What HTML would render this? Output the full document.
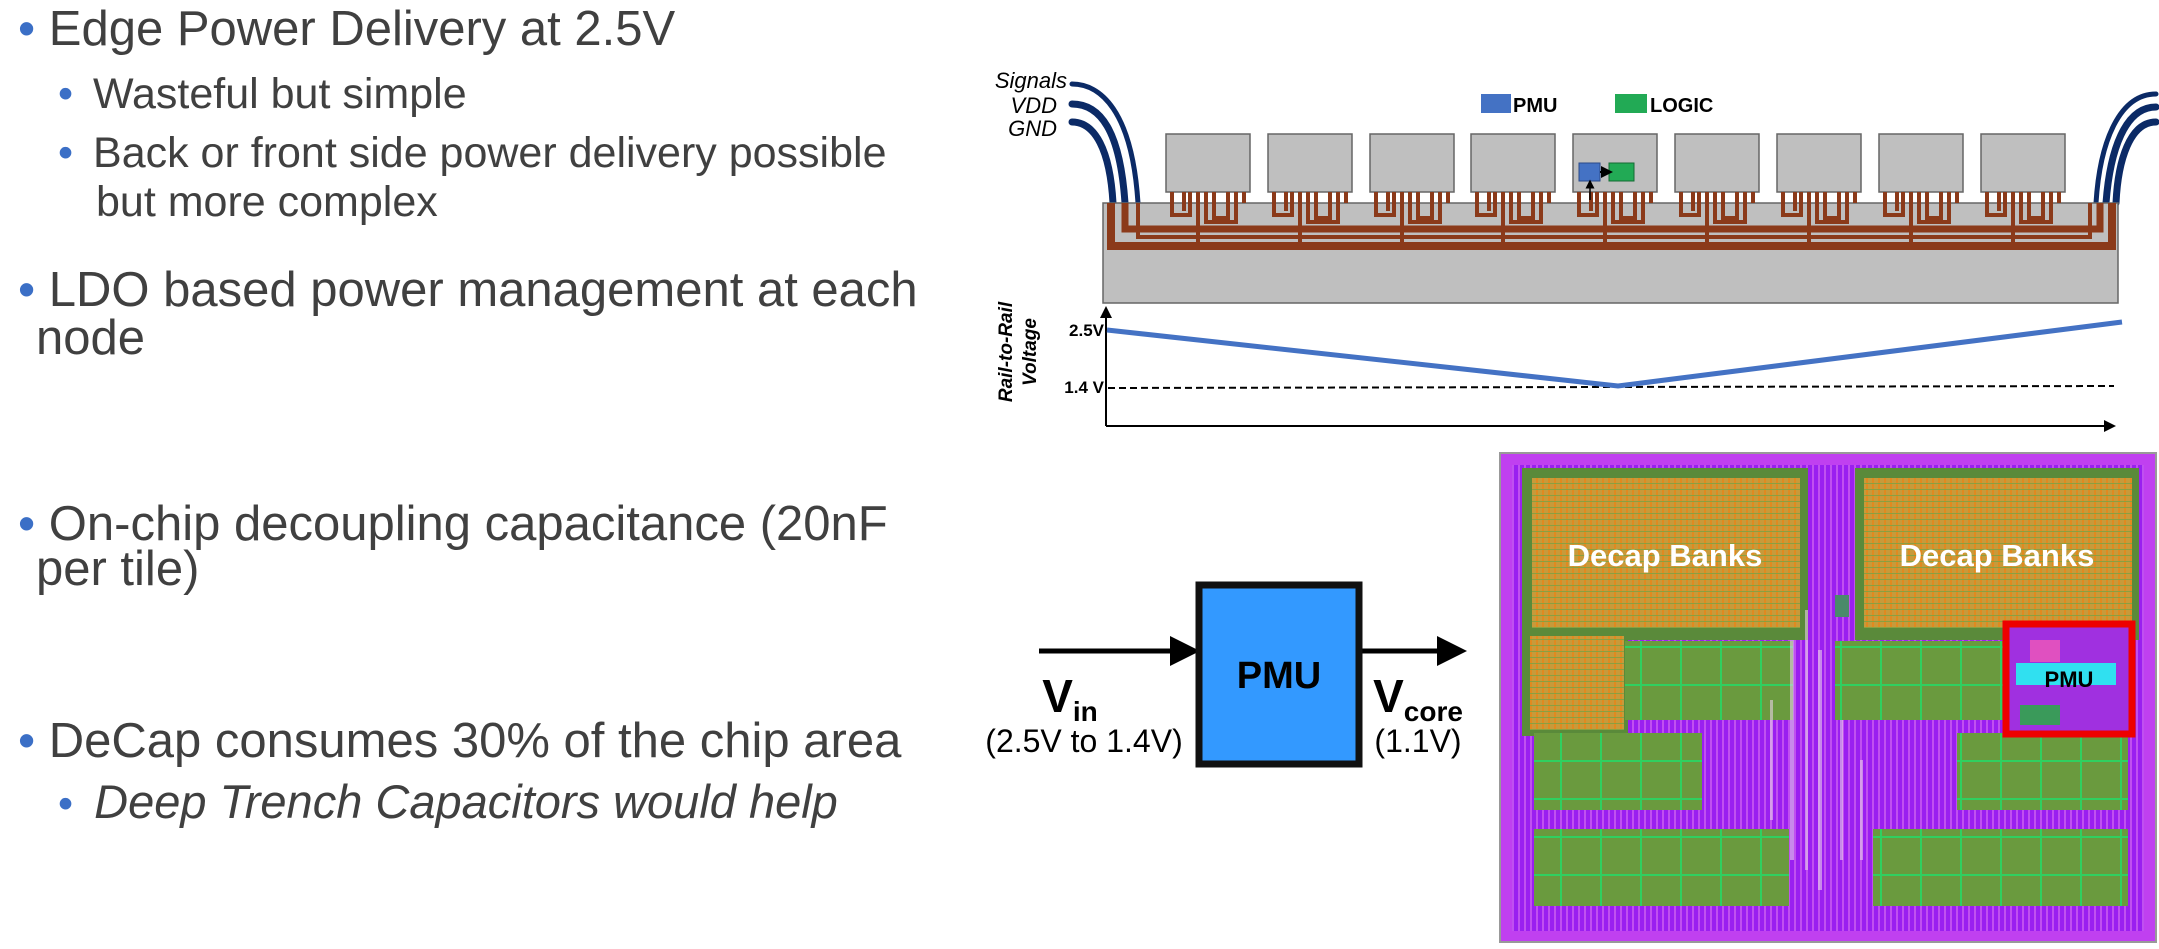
<!DOCTYPE html>
<html><head><meta charset="utf-8"><style>
html,body{margin:0;padding:0;background:#fff;}
body{width:2159px;height:949px;position:relative;overflow:hidden;font-family:"Liberation Sans",sans-serif;color:#404040;}
.t{position:absolute;white-space:nowrap;line-height:1;}
.m{font-size:49px;}
.s{font-size:43px;}
.b{color:#3b6fc6;}
.s .b{margin-right:8px;}
</style></head><body>
<div class="t m" style="left:18px;top:5px"><span class="b">•</span> Edge Power Delivery at 2.5V</div>
<div class="t s" style="left:58px;top:73px"><span class="b">•</span> Wasteful but simple</div>
<div class="t s" style="left:58px;top:132px"><span class="b">•</span> Back or front side power delivery possible</div>
<div class="t s" style="left:96px;top:181px">but more complex</div>
<div class="t m" style="left:18px;top:266px"><span class="b">•</span> LDO based power management at each</div>
<div class="t m" style="left:36px;top:314px">node</div>
<div class="t m" style="left:18px;top:500px"><span class="b">•</span> On-chip decoupling capacitance (20nF</div>
<div class="t m" style="left:36px;top:545px">per tile)</div>
<div class="t m" style="left:18px;top:717px"><span class="b">•</span> DeCap consumes 30% of the chip area</div>
<div class="t s" style="left:58px;top:778px;font-style:italic;font-size:47px"><span class="b" style="font-style:normal;font-size:43px">•</span> Deep Trench Capacitors would help</div>

<svg width="2159" height="949" style="position:absolute;left:0;top:0" xmlns="http://www.w3.org/2000/svg">
<defs>
<pattern id="vs" width="6" height="6" patternUnits="userSpaceOnUse"><rect width="6" height="6" fill="#9a1ff0"/><rect width="2" height="6" fill="#c050f0"/></pattern>
<pattern id="dc" width="6" height="6" patternUnits="userSpaceOnUse"><rect width="6" height="6" fill="#c89a3a"/><rect width="2" height="6" fill="#e08a20"/><rect y="3" width="6" height="1" fill="#8aa040"/></pattern>
<pattern id="gb" width="40" height="38" patternUnits="userSpaceOnUse"><rect width="40" height="38" fill="#6a9a3e"/><rect width="2" height="38" fill="#30d060"/><rect width="40" height="2" fill="#30d060"/></pattern>
<marker id="ah" markerWidth="6" markerHeight="6" refX="3" refY="3" orient="auto"><path d="M0,0 L6,3 L0,6z" fill="#000"/></marker>
</defs>
<g fill="none" stroke="#0b2a66" stroke-linecap="round">
<path d="M1072,84 C1100,84 1132,110 1138,203" stroke-width="5"/>
<path d="M1072,104 C1100,104 1120,130 1125,203" stroke-width="7"/>
<path d="M1072,122 C1095,122 1110,150 1113,203" stroke-width="7"/>
<path d="M2156,94 C2120,94 2100,140 2096,203" stroke-width="5"/>
<path d="M2156,107 C2125,107 2110,150 2106,203" stroke-width="7"/>
<path d="M2156,122 C2130,122 2118,160 2116,203" stroke-width="7"/>
</g>
<text x="1067" y="88" font-family="Liberation Sans" font-style="italic" font-size="22" text-anchor="end" fill="#000">Signals</text>
<text x="1057" y="113" font-family="Liberation Sans" font-style="italic" font-size="22" text-anchor="end" fill="#000">VDD</text>
<text x="1057" y="136" font-family="Liberation Sans" font-style="italic" font-size="22" text-anchor="end" fill="#000">GND</text>
<rect x="1481" y="94" width="30" height="19" fill="#4472c4"/>
<text x="1513" y="112" font-family="Liberation Sans" font-weight="bold" font-size="20" fill="#000">PMU</text>
<rect x="1615" y="94" width="32" height="19" fill="#22aa55"/>
<text x="1650" y="112" font-family="Liberation Sans" font-weight="bold" font-size="20" fill="#000">LOGIC</text>
<rect x="1103" y="203" width="1015" height="100" fill="#bfbfbf" stroke="#666" stroke-width="1.5"/>
<g fill="#bfbfbf" stroke="#666" stroke-width="1.5">
<rect x="1166" y="134" width="84" height="58"/><rect x="1268" y="134" width="84" height="58"/><rect x="1370" y="134" width="84" height="58"/><rect x="1471" y="134" width="84" height="58"/><rect x="1573" y="134" width="84" height="58"/><rect x="1675" y="134" width="84" height="58"/><rect x="1777" y="134" width="84" height="58"/><rect x="1879" y="134" width="84" height="58"/><rect x="1981" y="134" width="84" height="58"/>
</g>
<g stroke="#8b3a1a" fill="none">
<path d="M1111,203 V246 H2112 V203" stroke-width="8"/>
<path d="M1125,203 V229 H2100 V203" stroke-width="7"/>
<path d="M1138,203 V237 H2090 V203" stroke-width="4"/>
</g>
<g stroke="#8b3a1a" stroke-width="4" fill="none">
<g id="p0">
<path d="M1172,192 V215 H1190 V192"/><path d="M1184,192 V211"/><path d="M1198,192 V246"/><path d="M1206,192 V222 H1236 V192"/><path d="M1214,192 V218 H1228 V192"/><path d="M1244,192 V203"/>
</g>
<use href="#p0" x="102"/><use href="#p0" x="204"/><use href="#p0" x="305"/><use href="#p0" x="407"/><use href="#p0" x="509"/><use href="#p0" x="611"/><use href="#p0" x="713"/><use href="#p0" x="815"/>
</g>
<rect x="1579" y="163" width="21" height="18" fill="#4472c4" stroke="#2a4a8a"/>
<rect x="1609" y="163" width="25" height="18" fill="#22aa55" stroke="#146b33"/>
<line x1="1600" y1="172" x2="1607" y2="172" stroke="#000" stroke-width="2" marker-end="url(#ah)"/>
<line x1="1590" y1="200" x2="1590" y2="184" stroke="#000" stroke-width="1.5" marker-end="url(#ah)"/>
<line x1="1106" y1="426" x2="1106" y2="312" stroke="#000" stroke-width="2" marker-end="url(#ah)"/>
<line x1="1106" y1="426" x2="2110" y2="426" stroke="#000" stroke-width="2" marker-end="url(#ah)"/>
<line x1="1108" y1="388" x2="2114" y2="386" stroke="#000" stroke-width="2" stroke-dasharray="7,4"/>
<polyline points="1107,330 1618,386 2122,322" fill="none" stroke="#4472c4" stroke-width="5"/>
<text x="1104" y="336" font-family="Liberation Sans" font-weight="bold" font-size="17" text-anchor="end" fill="#000">2.5V</text>
<text x="1104" y="393" font-family="Liberation Sans" font-weight="bold" font-size="17" text-anchor="end" fill="#000">1.4 V</text>
<text transform="translate(1012,352) rotate(-90)" font-family="Liberation Sans" font-weight="bold" font-style="italic" font-size="19" text-anchor="middle" fill="#000">Rail-to-Rail</text>
<text transform="translate(1036,352) rotate(-90)" font-family="Liberation Sans" font-weight="bold" font-style="italic" font-size="19" text-anchor="middle" fill="#000">Voltage</text>
<line x1="1039" y1="651" x2="1185" y2="651" stroke="#000" stroke-width="5" marker-end="url(#ah)"/>
<line x1="1362" y1="651" x2="1452" y2="651" stroke="#000" stroke-width="5" marker-end="url(#ah)"/>
<rect x="1199" y="585" width="160" height="179" fill="#3399ff" stroke="#111" stroke-width="7"/>
<text x="1279" y="688" font-family="Liberation Sans" font-weight="bold" font-size="38" text-anchor="middle" fill="#000">PMU</text>
<text x="1070" y="712" font-family="Liberation Sans" font-weight="bold" font-size="46" text-anchor="middle" fill="#000">V<tspan font-size="28" dy="9">in</tspan></text>
<text x="1084" y="752" font-family="Liberation Sans" font-size="32" text-anchor="middle" fill="#000">(2.5V to 1.4V)</text>
<text x="1418" y="712" font-family="Liberation Sans" font-weight="bold" font-size="46" text-anchor="middle" fill="#000">V<tspan font-size="28" dy="9">core</tspan></text>
<text x="1418" y="752" font-family="Liberation Sans" font-size="32" text-anchor="middle" fill="#000">(1.1V)</text>
<rect x="1500" y="453" width="656" height="489" fill="#c040f0" stroke="#999" stroke-width="2"/>
<rect x="1512" y="465" width="632" height="466" fill="url(#vs)"/>
<rect x="1522" y="468" width="286" height="172" fill="#5a8a3a"/>
<rect x="1532" y="478" width="268" height="150" fill="url(#dc)"/>
<rect x="1855" y="468" width="284" height="172" fill="#5a8a3a"/>
<rect x="1864" y="478" width="268" height="150" fill="url(#dc)"/>
<rect x="1522" y="632" width="106" height="104" fill="#5a8a3a"/>
<rect x="1530" y="636" width="94" height="94" fill="url(#dc)"/>
<rect x="1625" y="641" width="168" height="79" fill="url(#gb)"/>
<rect x="1835" y="641" width="168" height="79" fill="url(#gb)"/>
<rect x="1534" y="733" width="168" height="77" fill="url(#gb)"/>
<rect x="1957" y="733" width="171" height="77" fill="url(#gb)"/>
<rect x="1534" y="829" width="255" height="77" fill="url(#gb)"/>
<rect x="1873" y="829" width="255" height="77" fill="url(#gb)"/>
<g fill="#e8d0e8" opacity="0.6">
<rect x="1790" y="640" width="4" height="220"/><rect x="1805" y="610" width="3" height="260"/><rect x="1818" y="650" width="4" height="240"/><rect x="1770" y="700" width="3" height="120"/><rect x="1840" y="720" width="3" height="140"/><rect x="1860" y="760" width="3" height="100"/>
</g>
<rect x="1835" y="595" width="14" height="22" fill="#4a8a6a"/>
<rect x="2006" y="624" width="126" height="110" fill="#a030e0" stroke="#ee0000" stroke-width="7"/>
<rect x="2016" y="663" width="100" height="22" fill="#30e0f0"/>
<rect x="2030" y="640" width="30" height="22" fill="#e050c0"/>
<rect x="2020" y="705" width="40" height="20" fill="#3a9a5a"/>
<text x="1665" y="566" font-family="Liberation Sans" font-weight="bold" font-size="31" text-anchor="middle" fill="#fff">Decap Banks</text>
<text x="1997" y="566" font-family="Liberation Sans" font-weight="bold" font-size="31" text-anchor="middle" fill="#fff">Decap Banks</text>
<text x="2069" y="687" font-family="Liberation Sans" font-weight="bold" font-size="22" text-anchor="middle" fill="#000">PMU</text>
</svg>
</body></html>
